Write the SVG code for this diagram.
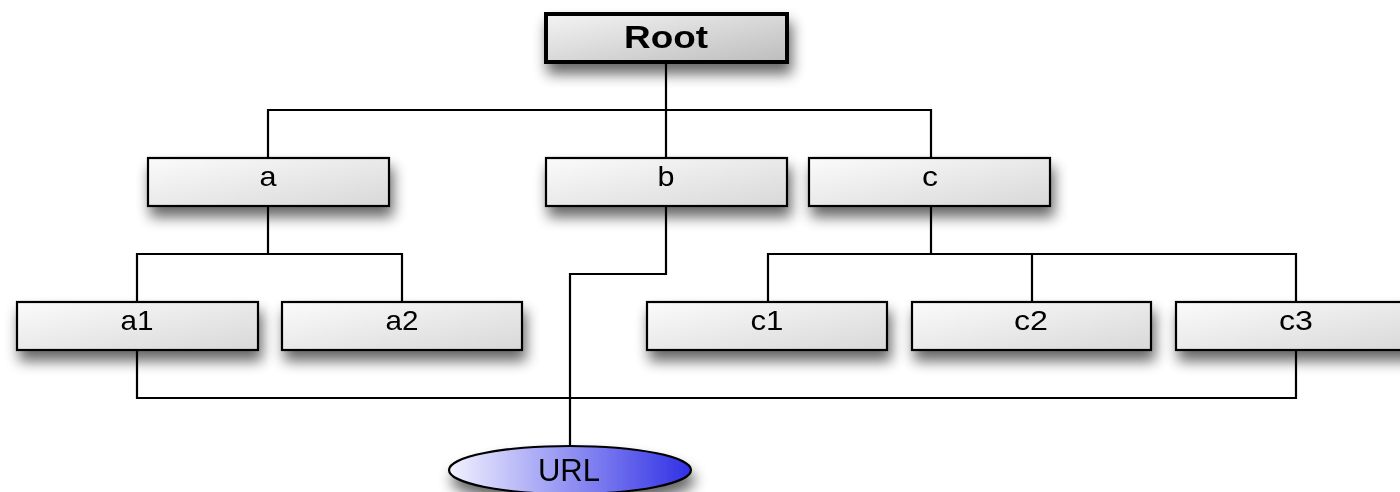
<svg xmlns="http://www.w3.org/2000/svg" width="1400" height="492" viewBox="0 0 1400 492">
<defs>
<linearGradient id="gBox" x1="0" y1="0" x2="1" y2="1">
<stop offset="0" stop-color="#fbfbfb"/>
<stop offset="1" stop-color="#d8d8d8"/>
</linearGradient>
<linearGradient id="gRoot" x1="0" y1="0" x2="1" y2="1">
<stop offset="0" stop-color="#f4f4f4"/>
<stop offset="1" stop-color="#bdbdbd"/>
</linearGradient>
<linearGradient id="gUrl" x1="0" y1="0" x2="1" y2="0">
<stop offset="0" stop-color="#f2f2ff"/>
<stop offset="1" stop-color="#3030e6"/>
</linearGradient>
<filter id="sh" x="-20%" y="-50%" width="140%" height="240%">
<feGaussianBlur in="SourceAlpha" stdDeviation="7"/>
<feOffset dx="3" dy="10" result="b"/>
<feComponentTransfer><feFuncA type="linear" slope="0.6"/></feComponentTransfer>
<feMerge><feMergeNode/><feMergeNode in="SourceGraphic"/></feMerge>
</filter>
</defs>
<style>
.box{fill:url(#gBox);stroke:#000;stroke-width:2.2}
.root{fill:url(#gRoot);stroke:#000;stroke-width:4}
.lbl{font-family:"Liberation Sans",Arial,sans-serif;font-size:28px;fill:#000;text-anchor:middle}
.rt{font-family:"Liberation Sans",Arial,sans-serif;font-size:32px;font-weight:bold;fill:#000;text-anchor:middle}
.conn{fill:none;stroke:#000;stroke-width:2.2}
</style>
<rect width="1400" height="492" fill="#fff"/>
<g id="connectors" class="conn">
<path d="M666 63 V110 M268 158 V110 H931 V158 M666 110 V158"/>
<path d="M268 206 V254 M137 303 V254 H402 V303"/>
<path d="M931 206 V254 M768 302 V254 H1296 V302 M1032 254 V302"/>
<path d="M666 206 V274 H570 V446"/>
<path d="M137 350 V398 H1296 V350"/>
</g>
<g id="node-root" filter="url(#sh)"><rect class="root" x="546" y="14" width="241" height="48"/><text class="rt" x="666" y="48" textLength="84" lengthAdjust="spacingAndGlyphs">Root</text></g>
<g id="node-a" filter="url(#sh)"><rect class="box" x="148" y="158" width="241" height="48"/><text class="lbl" x="268" y="186" textLength="17" lengthAdjust="spacingAndGlyphs">a</text></g>
<g id="node-b" filter="url(#sh)"><rect class="box" x="546" y="158" width="241" height="48"/><text class="lbl" x="666" y="186" textLength="17" lengthAdjust="spacingAndGlyphs">b</text></g>
<g id="node-c" filter="url(#sh)"><rect class="box" x="809" y="158" width="241" height="48"/><text class="lbl" x="930" y="186" textLength="16" lengthAdjust="spacingAndGlyphs">c</text></g>
<g id="node-a1" filter="url(#sh)"><rect class="box" x="17" y="302" width="241" height="48"/><text class="lbl" x="137" y="330" textLength="33" lengthAdjust="spacingAndGlyphs">a1</text></g>
<g id="node-a2" filter="url(#sh)"><rect class="box" x="282" y="302" width="240" height="48"/><text class="lbl" x="402" y="330" textLength="33" lengthAdjust="spacingAndGlyphs">a2</text></g>
<g id="node-c1" filter="url(#sh)"><rect class="box" x="647" y="302" width="240" height="48"/><text class="lbl" x="767" y="330" textLength="33" lengthAdjust="spacingAndGlyphs">c1</text></g>
<g id="node-c2" filter="url(#sh)"><rect class="box" x="912" y="302" width="239" height="48"/><text class="lbl" x="1031" y="330" textLength="34" lengthAdjust="spacingAndGlyphs">c2</text></g>
<g id="node-c3" filter="url(#sh)"><rect class="box" x="1176" y="302" width="240" height="48"/><text class="lbl" x="1296" y="330" textLength="34" lengthAdjust="spacingAndGlyphs">c3</text></g>
<g id="node-url" filter="url(#sh)"><ellipse cx="570" cy="470" rx="121" ry="24" fill="url(#gUrl)" stroke="#000" stroke-width="2.2"/><text class="lbl" x="569" y="481" style="font-size:31px">URL</text></g>
</svg>
